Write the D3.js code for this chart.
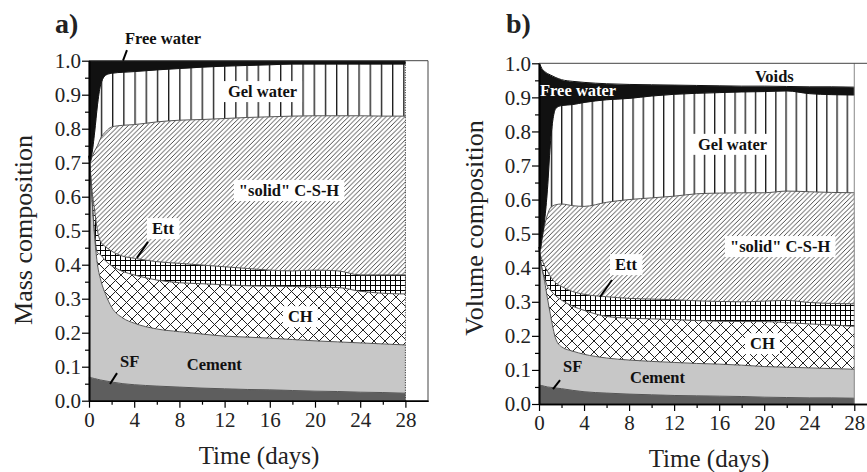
<!DOCTYPE html>
<html>
<head>
<meta charset="utf-8">
<script src="https://cdn.jsdelivr.net/npm/d3@7"></script>
<style>
  body { margin: 0; background: #fff; }
  svg { display: block; font-family: "Liberation Serif", "Times New Roman", serif; }
</style>
</head>
<body>
<svg id="chart" width="867" height="472"></svg>
<script>
// hydration time (days)
const days = [0, 0.1, 0.25, 0.5, 0.75, 1, 1.5, 2, 3, 4, 6, 8, 10, 12, 14, 16, 18, 20, 22, 24, 26, 28];

// a) mass fractions of each phase (bottom to top)
const massSF     = [.070, .069, .067, .065, .063, .061, .058, .055, .050, .047, .043, .040, .037, .035, .033, .032, .030, .028, .027, .025, .024, .022];
const massCement = [.650, .611, .533, .415, .337, .299, .252, .220, .193, .181, .168, .163, .159, .155, .154, .152, .150, .148, .146, .145, .143, .142];
const massCH     = [0, 0, .005, .010, .035, .070, .100, .122, .137, .142, .144, .144, .148, .151, .151, .153, .156, .158, .160, .152, .149, .150];
const massEtt    = [0, .005, .020, .070, .065, .040, .042, .043, .045, .049, .054, .057, .055, .053, .051, .047, .046, .050, .049, .048, .054, .056];
const massCSH    = [0, .015, .090, .175, .250, .300, .340, .365, .385, .393, .411, .421, .428, .436, .444, .451, .455, .454, .456, .468, .467, .467];
const massGel    = [0, .005, .010, .055, .120, .155, .166, .158, .156, .156, .153, .152, .154, .154, .153, .153, .153, .152, .152, .152, .153, .153];
const massFree   = [.280, .295, .275, .210, .130, .075, .042, .037, .034, .032, .027, .023, .019, .016, .014, .012, .010, .010, .010, .010, .010, .010];

// b) volume fractions of each phase (bottom to top)
const volSF     = [.056, .055, .054, .052, .050, .049, .047, .045, .040, .036, .032, .029, .027, .025, .024, .023, .022, .020, .019, .018, .018, .017];
const volCement = [.404, .375, .346, .308, .260, .216, .143, .123, .115, .110, .103, .100, .098, .097, .095, .094, .092, .090, .089, .088, .086, .085];
const volCH     = [0, 0, 0, .010, .035, .070, .127, .137, .132, .129, .122, .123, .125, .126, .126, .126, .128, .132, .131, .129, .128, .126];
const volEtt    = [0, .010, .025, .035, .045, .040, .038, .040, .043, .047, .058, .058, .058, .058, .058, .058, .058, .060, .065, .063, .063, .066];
const volCSH    = [0, .010, .055, .120, .165, .200, .230, .242, .252, .258, .277, .290, .297, .304, .314, .318, .320, .318, .321, .325, .326, .326];
const volGel    = [0, .005, .005, .015, .075, .185, .283, .289, .297, .305, .301, .297, .299, .299, .295, .295, .296, .297, .294, .288, .287, .287];
const volFree   = [.540, .540, .500, .436, .340, .206, .090, .076, .068, .059, .047, .041, .033, .027, .023, .020, .017, .016, .013, .020, .023, .023];
const volVoids  = [0, .005, .015, .024, .030, .034, .042, .048, .053, .056, .060, .062, .063, .064, .065, .066, .067, .067, .068, .069, .069, .070];

const xTicks = [0, 4, 8, 12, 16, 20, 24, 28];
const xMinor = [2, 6, 10, 14, 18, 22, 26];
const yTicks = [0, 0.1, 0.2, 0.3, 0.4, 0.5, 0.6, 0.7, 0.8, 0.9, 1.0];
const yMinor = [0.05, 0.15, 0.25, 0.35, 0.45, 0.55, 0.65, 0.75, 0.85, 0.95];

const svg = d3.select("#chart");
const defs = svg.append("defs");

// hatch patterns, one set per panel
function makePatterns(tag, gelStep) {
  const gel = defs.append("pattern").attr("id", "gel" + tag)
    .attr("patternUnits", "userSpaceOnUse").attr("width", gelStep).attr("height", 10);
  gel.append("rect").attr("width", gelStep).attr("height", 10).attr("fill", "#fff");
  gel.append("line").attr("x1", 0.7).attr("x2", 0.7).attr("y1", 0).attr("y2", 10)
    .attr("stroke", "#000").attr("stroke-width", 1.2);

  const csh = defs.append("pattern").attr("id", "csh" + tag)
    .attr("patternUnits", "userSpaceOnUse").attr("width", 4.7).attr("height", 4.7);
  csh.append("rect").attr("width", 4.7).attr("height", 4.7).attr("fill", "#fff");
  csh.append("path").attr("d", "M-1,1 L1,-1 M0,4.7 L4.7,0 M3.7,5.7 L5.7,3.7")
    .attr("stroke", "#333").attr("stroke-width", 0.9);

  const ett = defs.append("pattern").attr("id", "ett" + tag)
    .attr("patternUnits", "userSpaceOnUse").attr("width", 5).attr("height", 5);
  ett.append("rect").attr("width", 5).attr("height", 5).attr("fill", "#fff");
  ett.append("path").attr("d", "M0,0.5 H5 M0.5,0 V5")
    .attr("stroke", "#000").attr("stroke-width", 1);

  const ch = defs.append("pattern").attr("id", "ch" + tag)
    .attr("patternUnits", "userSpaceOnUse").attr("width", 11).attr("height", 11);
  ch.append("rect").attr("width", 11).attr("height", 11).attr("fill", "#fff");
  ch.append("path").attr("d", "M0,0 L11,11 M11,0 L0,11")
    .attr("stroke", "#222").attr("stroke-width", 1);
}
makePatterns("A", 11.2);
makePatterns("B", 10.2);

function drawPanel(cfg) {
  const x = d3.scaleLinear().domain([0, 30]).range([cfg.left, cfg.right]);
  const y = d3.scaleLinear().domain([0, 1]).range([cfg.bottom, cfg.top]);
  const g = svg.append("g");

  const keys = cfg.layers.map(l => l.key);
  const rows = days.map((d, i) => {
    const r = { day: d };
    cfg.layers.forEach(l => r[l.key] = l.values[i]);
    return r;
  });
  const series = d3.stack().keys(keys)(rows);

  const area = d3.area()
    .x(d => x(d.data.day))
    .y0(d => y(d[0]))
    .y1(d => y(d[1]))
    .curve(d3.curveMonotoneX);

  const topLine = d3.line()
    .x(d => x(d.data.day))
    .y(d => y(d[1]))
    .curve(d3.curveMonotoneX);

  g.selectAll(".layer")
    .data(series)
    .enter()
    .append("path")
    .attr("class", "layer")
    .attr("d", area)
    .attr("fill", (d, i) => cfg.layers[i].fill)
    .attr("stroke", (d, i) => cfg.layers[i].fill)
    .attr("stroke-width", 0.3);

  // phase boundaries
  g.selectAll(".edge")
    .data(series.slice(0, series.length - 1))
    .enter()
    .append("path")
    .attr("class", "edge")
    .attr("d", topLine)
    .attr("fill", "none")
    .attr("stroke", (d, i) => i >= 5 ? "#111" : "#555")
    .attr("stroke-width", 1);

  // right end of the data
  g.append("line")
    .attr("x1", x(28)).attr("x2", x(28))
    .attr("y1", y(0)).attr("y2", y(1))
    .attr("stroke", cfg.endDotted ? "#222" : "#888")
    .attr("stroke-width", 1)
    .attr("stroke-dasharray", cfg.endDotted ? "1,1.5" : null);

  // frame (top and right)
  g.append("path")
    .attr("d", `M${x(0)},${y(1)}H${x(30)}V${y(0)}`)
    .attr("fill", "none")
    .attr("stroke", "#444")
    .attr("stroke-width", 1);

  // axes
  g.append("g")
    .attr("transform", `translate(${x(0)},0)`)
    .call(d3.axisLeft(y).tickValues(yTicks).tickFormat(d3.format(".1f"))
      .tickSize(7).tickPadding(1).tickSizeOuter(0));
  g.append("g")
    .attr("transform", `translate(${x(0)},0)`)
    .call(d3.axisLeft(y).tickValues(yMinor).tickFormat("").tickSize(4).tickSizeOuter(0));

  g.append("g")
    .attr("transform", `translate(0,${y(0)})`)
    .call(d3.axisBottom(x).tickValues(xTicks).tickFormat(d3.format("d"))
      .tickSize(7).tickPadding(4).tickSizeOuter(0));
  g.append("g")
    .attr("transform", `translate(0,${y(0)})`)
    .call(d3.axisBottom(x).tickValues(xMinor).tickFormat("").tickSize(4).tickSizeOuter(0));

  g.selectAll(".domain").attr("stroke", "#000").attr("stroke-width", 1.6);
  g.selectAll(".tick line").attr("stroke", "#000").attr("stroke-width", 1.2);
  g.selectAll(".tick text")
    .attr("font-family", "Liberation Serif, serif")
    .attr("font-size", "21px")
    .attr("fill", "#222");

  // axis titles
  g.append("text")
    .attr("transform", "rotate(-90)")
    .attr("x", -cfg.yTitleMid)
    .attr("y", cfg.yTitleX)
    .attr("text-anchor", "middle")
    .attr("font-size", "26px")
    .attr("fill", "#222")
    .text(cfg.yTitle);

  g.append("text")
    .attr("x", cfg.xTitleMid)
    .attr("y", cfg.xTitleY)
    .attr("text-anchor", "middle")
    .attr("font-size", "25px")
    .attr("fill", "#222")
    .text("Time (days)");

  // panel letter
  g.append("text")
    .attr("x", cfg.letterX)
    .attr("y", 33)
    .attr("font-size", "28px")
    .attr("font-weight", "bold")
    .attr("fill", "#222")
    .text(cfg.letter);

  // leader lines
  cfg.leaders.forEach(l => {
    g.append("line")
      .attr("x1", x(l[0])).attr("y1", y(l[1]))
      .attr("x2", x(l[2])).attr("y2", y(l[3]))
      .attr("stroke", "#000").attr("stroke-width", 2);
  });

  // phase labels
  cfg.labels.forEach(l => {
    const t = g.append("text")
      .attr("x", x(l.t))
      .attr("y", y(l.v))
      .attr("font-size", "16.5px")
      .attr("font-weight", "bold")
      .attr("fill", l.white ? "#fff" : "#111")
      .text(l.text);
    if (l.box) {
      const b = t.node().getBBox();
      g.insert("rect", () => t.node())
        .attr("x", b.x - 5).attr("y", b.y - 1)
        .attr("width", b.width + 10).attr("height", b.height + 2)
        .attr("fill", "#fff");
    }
  });
}

drawPanel({
  left: 89, right: 428, top: 60.7, bottom: 400.7,
  letter: "a)", letterX: 55,
  yTitle: "Mass composition", yTitleMid: 230, yTitleX: 32,
  xTitleMid: 259, xTitleY: 464,
  endDotted: true,
  layers: [
    { key: "SF", values: massSF, fill: "#5e5e5e" },
    { key: "Cement", values: massCement, fill: "#c7c7c7" },
    { key: "CH", values: massCH, fill: "url(#chA)" },
    { key: "Ett", values: massEtt, fill: "url(#ettA)" },
    { key: "CSH", values: massCSH, fill: "url(#cshA)" },
    { key: "Gel", values: massGel, fill: "url(#gelA)" },
    { key: "Free", values: massFree, fill: "#111" }
  ],
  leaders: [[3.36, 1.031, 3.01, 1.0], [5.22, 0.467, 4.24, 0.42], [2.48, 0.081, 1.86, 0.049]],
  labels: [
    { text: "Free water", t: 3.18, v: 1.049 },
    { text: "Gel water", t: 12.29, v: 0.893, box: true },
    { text: "\"solid\" C-S-H", t: 13.26, v: 0.602, box: true },
    { text: "Ett", t: 5.57, v: 0.49, box: true },
    { text: "CH", t: 17.6, v: 0.231, box: true },
    { text: "Cement", t: 8.66, v: 0.091 },
    { text: "SF", t: 2.74, v: 0.099 }
  ]
});

drawPanel({
  left: 539, right: 876.8, top: 63.3, bottom: 404,
  letter: "b)", letterX: 506,
  yTitle: "Volume composition", yTitleMid: 228, yTitleX: 483,
  xTitleMid: 709, xTitleY: 467,
  endDotted: false,
  layers: [
    { key: "SF", values: volSF, fill: "#5e5e5e" },
    { key: "Cement", values: volCement, fill: "#c7c7c7" },
    { key: "CH", values: volCH, fill: "url(#chB)" },
    { key: "Ett", values: volEtt, fill: "url(#ettB)" },
    { key: "CSH", values: volCSH, fill: "url(#cshB)" },
    { key: "Gel", values: volGel, fill: "url(#gelB)" },
    { key: "Free", values: volFree, fill: "#111" },
    { key: "Voids", values: volVoids, fill: "#fff" }
  ],
  leaders: [[6.48, 0.364, 5.42, 0.314], [1.87, 0.070, 1.24, 0.044]],
  labels: [
    { text: "Voids", t: 19.18, v: 0.945 },
    { text: "Free water", t: 0.09, v: 0.904, white: true },
    { text: "Gel water", t: 14.12, v: 0.746, box: true },
    { text: "\"solid\" C-S-H", t: 16.96, v: 0.446, box: true },
    { text: "Ett", t: 6.75, v: 0.393, box: true },
    { text: "CH", t: 18.74, v: 0.161, box: true },
    { text: "Cement", t: 8.08, v: 0.062 },
    { text: "SF", t: 2.13, v: 0.094 }
  ]
});
</script>
</body>
</html>
